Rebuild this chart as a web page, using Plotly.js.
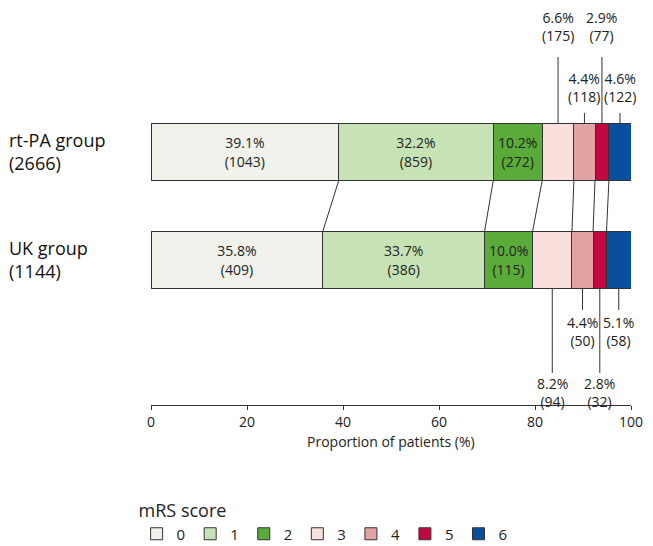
<!DOCTYPE html>
<html><head><meta charset="utf-8">
<script src="https://cdn.plot.ly/plotly-3.0.1.min.js"></script>
<style>body{margin:0}#g{width:653px;height:546px}</style>
</head><body><div id="g"></div>
<script>
const scores = ["0", "1", "2", "3", "4", "5", "6"];
const colors = ["#f1f2ec", "#c7e3b5", "#5aab3a", "#f9e0dc", "#e2a3a3", "#c3063f", "#0a4f9e"];
const rtpaPct = [39.1, 32.2, 10.2, 6.6, 4.4, 2.9, 4.6];
const rtpaN = [1043, 859, 272, 175, 118, 77, 122];
const ukPct = [35.8, 33.7, 10.0, 8.2, 4.4, 2.8, 5.1];
const ukN = [409, 386, 115, 94, 50, 32, 58];
const groups = ["rt-PA group<br>(2666)", "UK group<br>(1144)"];

// pixel -> y data helper (rt-PA at y=1, UK at y=0, 108px per unit, rt-PA centre at 152px)
const py = p => 1 + (152 - p) / 108;
const bw = 0.53;

const traces = scores.map((s, i) => ({
  type: "bar", orientation: "h",
  x: [rtpaPct[i], ukPct[i]], y: [1, 0], width: bw,
  name: s,
  marker: { color: colors[i], line: { color: "#333", width: 1 } },
  text: i < 3 ? [rtpaPct[i].toFixed(1) + "%<br>(" + rtpaN[i] + ")", ukPct[i].toFixed(1) + "%<br>(" + ukN[i] + ")"] : ["", ""],
  textposition: "inside", insidetextanchor: "middle",
  textfont: { color: "#222", size: 14 }, constraintext: "none",
  hoverinfo: "skip",
}));

const cum = arr => { let c = 0; return arr.map(v => (c += v)); };
const cr = cum(rtpaPct), cu = cum(ukPct);
const shapes = [];
for (let i = 0; i < 6; i++) {
  shapes.push({ type: "line", xref: "x", yref: "y", x0: cr[i], y0: 1 - bw / 2, x1: cu[i], y1: bw / 2, line: { color: "#333", width: 1 } });
}
const annotations = [];
// leader labels for small segments
const topLvl = { 3: [57, 27], 4: [113, 88], 5: [57, 27], 6: [113, 88] };
const botLvl = { 3: [373, 393], 4: [310, 332], 5: [373, 393], 6: [310, 332] };
for (let i = 3; i < 7; i++) {
  const xr = cr[i] - rtpaPct[i] / 2, xu = cu[i] - ukPct[i] / 2;
  shapes.push({ type: "line", xref: "x", yref: "y", x0: xr, x1: xr, y0: 1 + bw / 2, y1: py(topLvl[i][0]), line: { color: "#333", width: 1 } });
  shapes.push({ type: "line", xref: "x", yref: "y", x0: xu, x1: xu, y0: bw / 2 * -1, y1: py(botLvl[i][0]), line: { color: "#333", width: 1 } });
  annotations.push({ x: xr, y: py(topLvl[i][1]), xref: "x", yref: "y", showarrow: false, text: rtpaPct[i].toFixed(1) + "%<br>(" + rtpaN[i] + ")", font: { size: 14, color: "#222" } });
  annotations.push({ x: xu, y: py(botLvl[i][1]), xref: "x", yref: "y", showarrow: false, text: ukPct[i].toFixed(1) + "%<br>(" + ukN[i] + ")", font: { size: 14, color: "#222" } });
}
groups.forEach((g, k) => annotations.push({ xref: "paper", x: -0.3, xanchor: "left", yref: "y", y: 1 - k, text: g, align: "left", showarrow: false, font: { size: 18, color: "#111" } }));
annotations.push({ xref: "paper", x: 0.5, yref: "paper", y: -0.09, yanchor: "middle", text: "Proportion of patients (%)", showarrow: false, font: { size: 14, color: "#222" } });

const layout = {
  margin: { l: 151, r: 22, t: 0, b: 141, autoexpand: false },
  paper_bgcolor: "white", plot_bgcolor: "white",
  font: { family: "Open Sans, sans-serif", color: "#222", size: 14 },
  barmode: "stack",
  bargap: 0,
  showlegend: true,
  legend: {
    orientation: "h", x: -0.03, xanchor: "left", y: -0.22, yanchor: "top",
    title: { text: "mRS score", side: "top" }, font: { size: 15 },
    traceorder: "normal", itemwidth: 30,
  },
  xaxis: {
    range: [0, 100], tickvals: [0, 20, 40, 60, 80, 100], showgrid: false, zeroline: false,
    showline: true, linecolor: "#333", ticks: "outside", ticklen: 4, tickcolor: "#333",
    tickfont: { size: 14 }, automargin: false, anchor: "y",
  },
  yaxis: { range: [-1.343, 2.407], showticklabels: false, showgrid: false, zeroline: false, fixedrange: true },
  shapes, annotations,
};
Plotly.newPlot("g", traces, layout, { displayModeBar: false, staticPlot: true });
</script></body></html>
